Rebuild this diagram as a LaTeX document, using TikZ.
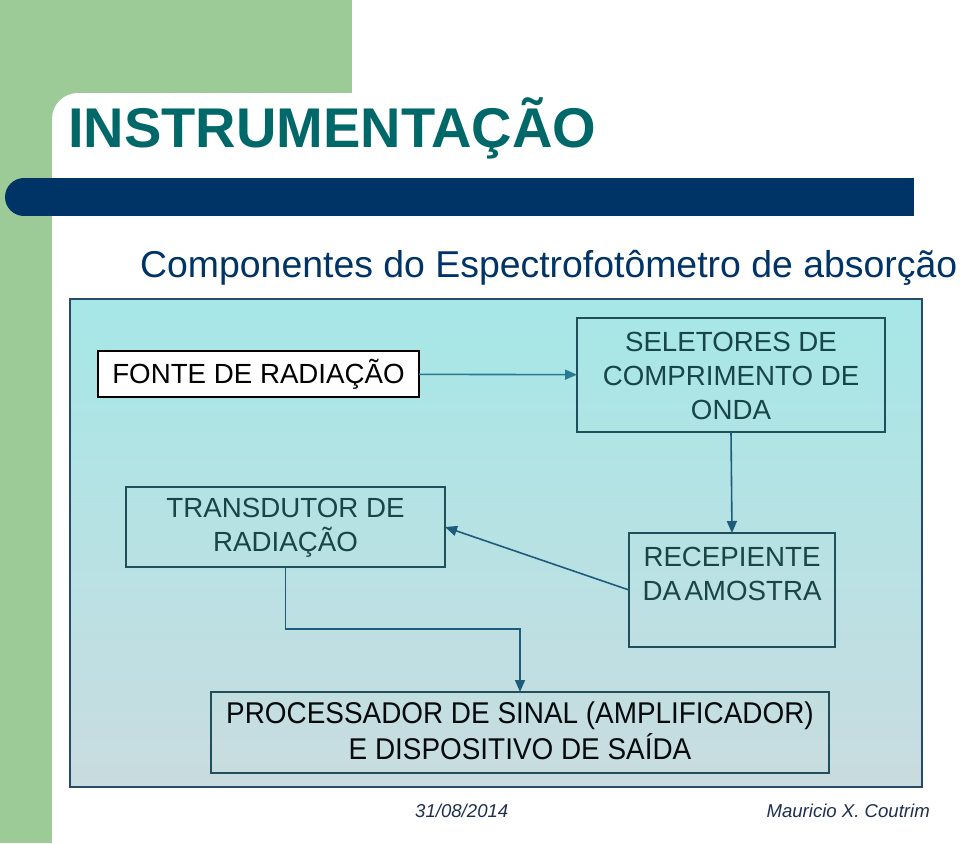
\documentclass[tikz,border=0pt]{standalone}
\usepackage{fontspec}
\setmainfont{Liberation Sans}
\usetikzlibrary{arrows.meta}
\definecolor{sgreen}{HTML}{9DCB98}
\definecolor{tteal}{HTML}{006868}
\definecolor{navy}{HTML}{003366}
\definecolor{ptop}{HTML}{A6E7E7}
\definecolor{pbot}{HTML}{C9DCE0}
\definecolor{pborder}{HTML}{2B4A6B}
\definecolor{bborder}{HTML}{1F4F5A}
\definecolor{btext}{HTML}{174548}
\definecolor{arr}{HTML}{1E5C7C}
\definecolor{arrl}{HTML}{2A7A92}
\definecolor{foot}{HTML}{1F2F4F}
\tikzset{
  box/.style={draw=bborder, line width=1.3pt, inner sep=0pt, outer sep=0pt, align=center, text=btext},
  boxfont/.style={font=\fontsize{27.7}{34}\selectfont},
  conn/.style={draw=arr, line width=1.6pt, -{Triangle[length=12pt,width=10pt]}},
}
\begin{document}
\begin{tikzpicture}[x=1pt,y=-1pt]
\useasboundingbox (0,0) rectangle (960,843);
% background
\fill[sgreen] (0,0) rectangle (960,843);
\fill[white] (352,0) rectangle (960,93);
\fill[white, rounded corners=26pt] (52,93) rectangle (1010,900);
% dark bar
\fill[navy] (24,197) circle (19pt);
\fill[navy] (24,178) rectangle (914,216);
% titles
\node[anchor=base west, inner sep=0pt, text=tteal, font=\fontsize{56}{60}\selectfont\bfseries] (title) at (68,147) {INSTRUMENTAÇÃO};
\node[anchor=base west, inner sep=0pt, text=navy, font=\fontsize{37.4}{40}\selectfont] (subtitle) at (140,277) {Componentes do Espectrofotômetro de absorção};
% panel
\path[top color=ptop, bottom color=pbot, draw=pborder, line width=1.3pt] (70,299) rectangle (922,787);
% boxes
\node[box, boxfont, draw=black, fill=white, text=black, minimum width=321pt, minimum height=46pt] (fonte) at (258.5,374) {FONTE DE RADIAÇÃO};
\node[box, boxfont, minimum width=308pt, minimum height=114pt] (selet) at (731,375) {};
\node[inner sep=0pt, boxfont, align=center, text=btext] (selettxt) at (731,376) {SELETORES DE\\COMPRIMENTO DE\\ONDA};
\node[box, minimum width=319pt, minimum height=80pt] (trans) at (285.5,527) {};
\node[inner sep=0pt, boxfont, align=center, text=btext] (transtxt) at (285.5,528) {TRANSDUTOR DE\\RADIAÇÃO};
\node[box, minimum width=206pt, minimum height=114pt] (recep) at (732,590) {};
\node[inner sep=0pt, boxfont, align=center, text=btext] (receptxt) at (732,574) {RECEPIENTE\\DA\hspace{-0.15em} AMOSTRA};
\node[box, minimum width=618pt, minimum height=81pt] (proc) at (520,732.5) {};
\node[inner sep=0pt, align=center, text=black!85!btext] (proctxt) at (520,735) {\scalebox{0.93}[1]{\fontsize{30}{33.5}\selectfont\begin{tabular}{@{}c@{}}PROCESSADOR DE SINAL (AMPLIFICADOR)\\E DISPOSITIVO DE SAÍDA\end{tabular}}};
% connectors
\draw[conn, draw=arrl] (fonte) -- (selet);
\draw[conn] (selet.south) -- (recep.north);
\draw[conn] (recep.west) -- (trans.east);
\draw[conn] (trans.south) -- ++(0,62) -| (proc.north);
% footer
\node[anchor=base west, inner sep=0pt, text=foot, font=\fontsize{18.6}{20}\selectfont\itshape] (date) at (415,817) {31/08/2014};
\node[anchor=base east, inner sep=0pt, text=foot, font=\fontsize{18.6}{20}\selectfont\itshape] (author) at (930,817) {Mauricio X. Coutrim};
\end{tikzpicture}
\end{document}
